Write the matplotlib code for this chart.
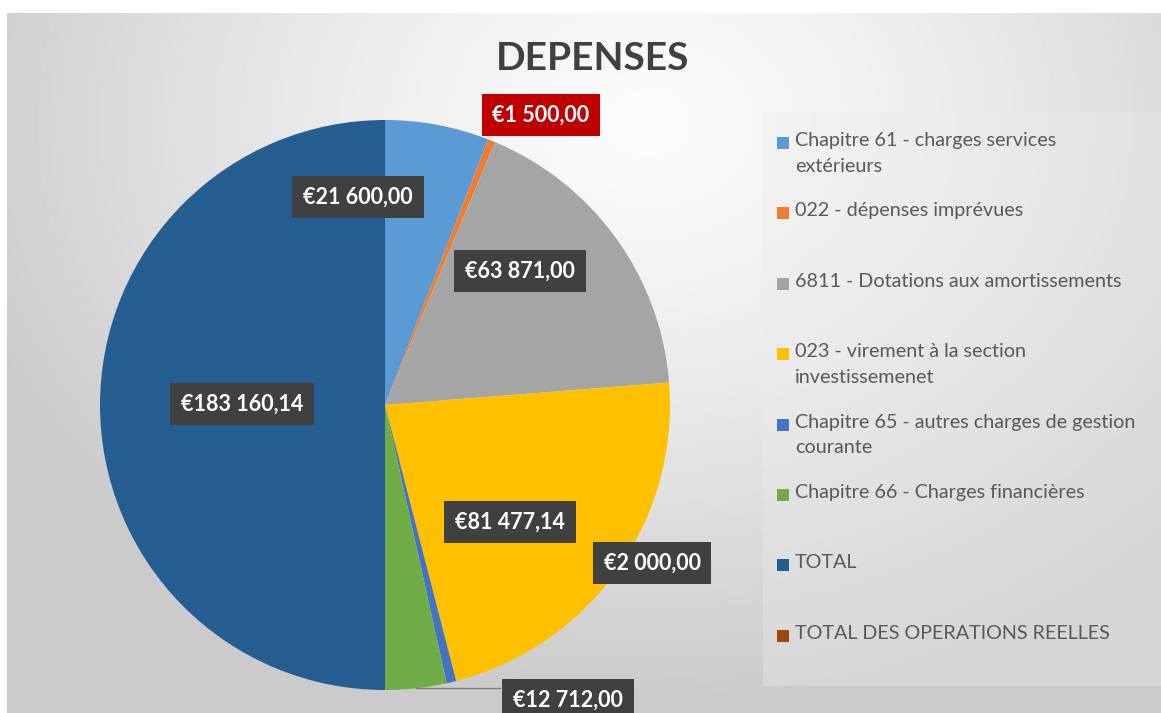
import numpy as np
import matplotlib.pyplot as plt

# data
labels = [
    "Chapitre 61 - charges services\nextérieurs",
    "022 - dépenses imprévues",
    "6811 - Dotations aux amortissements",
    "023 - virement à la section\ninvestissemenet",
    "Chapitre 65 - autres charges de gestion\ncourante",
    "Chapitre 66 - Charges financières",
    "TOTAL",
    "TOTAL DES OPERATIONS REELLES",
]
values = [21600.00, 1500.00, 63871.00, 81477.14, 2000.00, 12712.00, 183160.14, 0.0]
colors = ["#5B9BD5", "#ED7D31", "#A5A5A5", "#FFC000", "#4472C4", "#70AD47", "#255E91", "#9E480E"]

# label box centres (pixels) - placement only
label_px = [(358, 197), (541, 115), (520, 271), (510, 522), (652, 563), (568, 700), (242, 404), None]

W, H = 1161, 713
cx, cy, R = 385, 405, 285
FONT = "Lato"

fig = plt.figure(figsize=(W / 100, H / 100), dpi=100)
fig.patch.set_facecolor("white")

# background gradient
bg = fig.add_axes([7 / W, 0, 1 - 7 / W, 1 - 13 / H])
bg.set_axis_off()
yy, xx = np.mgrid[0:700, 0:1154]
d = np.sqrt(((xx - 640) / 1.0) ** 2 + ((yy - 110) * 1.25) ** 2)
shade = 0.985 - 0.19 * np.clip(d / 720, 0, 1) ** 1.3
bg.imshow(shade, cmap="gray", vmin=0, vmax=1, aspect="auto", interpolation="bilinear")


def fx(x):
    return x / W


def fy(y):
    return 1 - y / H


# legend panel
panel = plt.Rectangle((fx(763), fy(686)), fx(W) - fx(763), fy(112) - fy(686),
                      transform=fig.transFigure, facecolor="#ececec", edgecolor="none",
                      alpha=0.35, zorder=1)
fig.patches.append(panel)

# pie
ax = fig.add_axes([fx(cx - R), fy(cy + R), 2 * R / W, 2 * R / H])
ax.set_facecolor("none")
wedges, _ = ax.pie(values, colors=colors, startangle=90, counterclock=False,
                   radius=1, wedgeprops=dict(linewidth=0))
ax.set_xlim(-1, 1)
ax.set_ylim(-1, 1)
ax.set_aspect("equal")
ax.set_axis_off()


def fmt(v):
    s = f"{v:,.2f}"
    return "€" + s.replace(",", " ").replace(".", ",")


for i, w in enumerate(wedges):
    if label_px[i] is None:
        continue
    px, py = label_px[i]
    x = (px - cx) / R
    y = (cy - py) / R
    box_col = "#C00000" if i == 1 else "#404040"
    ax.text(x, y, fmt(values[i]), ha="center", va="center", color="white",
            fontsize=15.5, fontweight="bold", family=FONT, zorder=5, clip_on=False,
            bbox=dict(boxstyle="square,pad=0.5", facecolor=box_col, edgecolor="none"))
    if i == 5:
        ang = np.deg2rad((w.theta1 + w.theta2) / 2)
        ex, ey = np.cos(ang), np.sin(ang)
        ax.plot([ex, (500 - cx) / R], [ey, ey], color="#7f7f7f", lw=1, zorder=4,
                clip_on=False)

# title
fig.text(fx(593), fy(58), "DEPENSES", ha="center", va="center", fontsize=28,
         fontweight="bold", color="#404040", family=FONT)

# legend
for i, lab in enumerate(labels):
    y0 = 143 + i * 70.4
    sq = plt.Rectangle((fx(777), fy(y0 + 6)), 12 / W, 12 / H, transform=fig.transFigure,
                       facecolor=colors[i], edgecolor="none", zorder=3)
    fig.patches.append(sq)
    fig.text(fx(795), fy(y0 - 11), lab, ha="left", va="top", fontsize=14.2,
             color="#595959", family=FONT, linespacing=1.62, zorder=3)

fig.savefig("out.png", dpi=100)
